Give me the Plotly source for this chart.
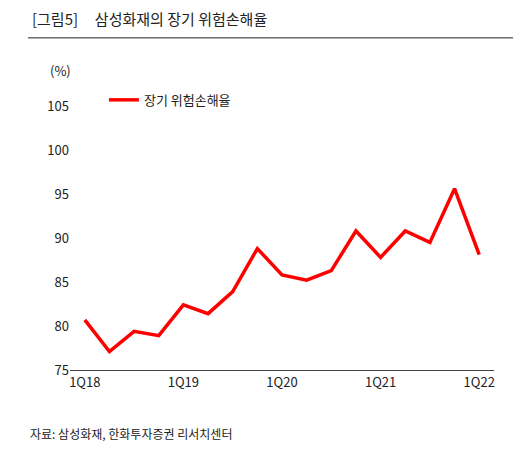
import plotly.graph_objects as go

quarters = ['1Q18', '2Q18', '3Q18', '4Q18', '1Q19', '2Q19', '3Q19', '4Q19',
            '1Q20', '2Q20', '3Q20', '4Q20', '1Q21', '2Q21', '3Q21', '4Q21', '1Q22']
loss_ratio = [80.7, 77.1, 79.4, 78.9, 82.4, 81.4, 83.9, 88.8,
              85.8, 85.2, 86.3, 90.8, 87.8, 90.8, 89.5, 95.6, 88.1]
tick_labels = ['1Q18', '1Q19', '1Q20', '1Q21', '1Q22']

font = "Noto Sans CJK KR"

fig = go.Figure(go.Scatter(
    x=quarters, y=loss_ratio, mode='lines', name='장기 위험손해율',
    line=dict(color='#ff0000', width=3.5),
))

fig.update_layout(
    width=527, height=451,
    margin=dict(l=62, r=41, t=98, b=89),
    paper_bgcolor='white', plot_bgcolor='white',
    font=dict(family=font, size=13, color='#222'),
    showlegend=True,
    legend=dict(x=0.08, y=1.08, xanchor='left', yanchor='top',
                bgcolor='rgba(0,0,0,0)', font=dict(size=13)),
    xaxis=dict(
        range=[-0.6, 16.6], showgrid=False, showline=True, linecolor='#444',
        tickmode='array', tickvals=tick_labels, ticktext=tick_labels,
        ticks='', tickfont=dict(size=13),
    ),
    yaxis=dict(
        range=[75, 105], dtick=5, showgrid=False, showline=False,
        zeroline=False, tickfont=dict(size=13),
    ),
    annotations=[
        dict(text='[그림5]&nbsp;&nbsp;&nbsp;&nbsp;&nbsp;삼성화재의 장기 위험손해율', xref='paper', yref='paper',
             x=-0.094, y=1.333, xanchor='left', yanchor='middle', showarrow=False,
             font=dict(size=15, color='#222')),
        dict(text='(%)', xref='paper', yref='paper', x=-0.052, y=1.136,
             xanchor='left', yanchor='middle', showarrow=False, font=dict(size=13)),
        dict(text='자료: 삼성화재, 한화투자증권 리서치센터', xref='paper', yref='paper',
             x=-0.1, y=-0.239, xanchor='left', yanchor='middle', showarrow=False,
             font=dict(size=12)),
    ],
    shapes=[
        dict(type='line', xref='paper', yref='paper', x0=-0.099, x1=1.045,
             y0=1.258, y1=1.258, line=dict(color='#222', width=1)),
    ],
)

fig.write_html("out.html")
